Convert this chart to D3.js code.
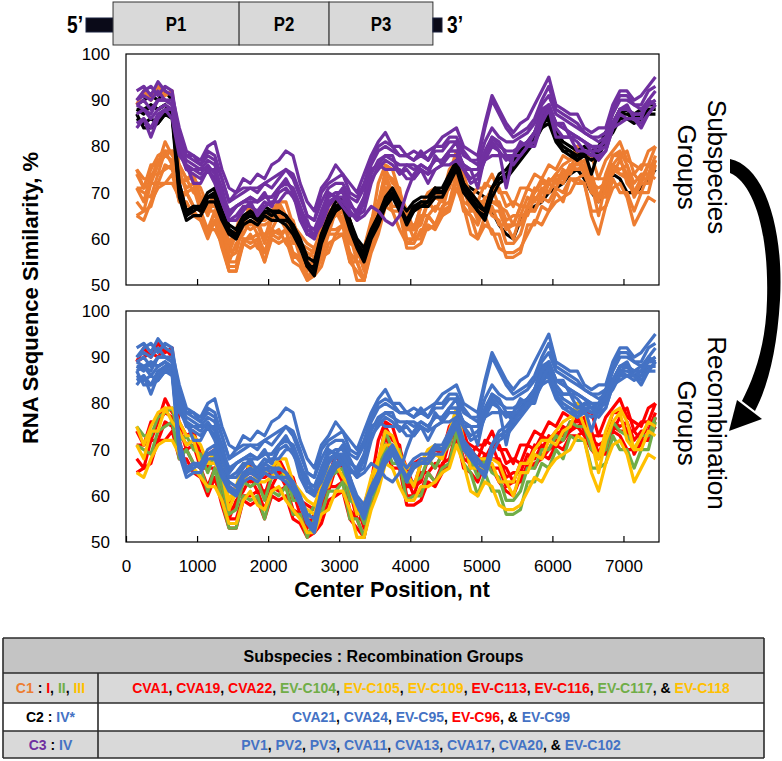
<!DOCTYPE html>
<html>
<head>
<meta charset="utf-8">
<script src="https://cdn.jsdelivr.net/npm/d3@7"></script>
<style>
  body { margin: 0; background: #fff; }
  svg { display: block; }
  text { white-space: pre; }
</style>
</head>
<body>
<div id="chart"></div>
<script>
// window centers, nt
const centerPositions = d3.range(150, 7500, 100)

// similarity to the query, % (one value per window center)
const CVA1 = [68,66,72,72,76,75,70,70,67,66, 62,66,60,55,55,60,60,61,57,62, 61,62,57,56,52,52,56,62,62,63, 57,55,51,60,65,73,69,68,60,60, 61,65,63,67,68,74,68,67,65,69, 68,68,64,65,65,69,68,71,70,73, 72,75,75,76,72,71,72,76,75,76, 72,74,74,78]
const CVA19 = [74,71,76,76,81,78,76,73,74,69, 69,69,67,58,62,64,67,64,64,65, 68,65,64,59,58,57,63,64,69,66, 64,58,58,63,72,76,75,70,66,62, 67,67,70,69,75,77,74,69,71,71, 74,70,70,67,71,71,74,73,76,75, 78,77,80,78,78,73,77,79,81,77, 76,75,79,80]
const CVA22 = [89,92,90,93,91,92,75,70,71,66, 66,66,64,55,59,61,64,61,61,62, 65,62,61,56,55,54,60,61,66,63, 61,55,55,58,67,71,71,67,64,60, 65,65,67,66,72,74,71,66,68,68, 71,67,66,63,67,67,71,70,73,72, 75,74,77,74,74,69,73,74,77,74, 74,72,76,76]
const EVC104 = [75,73,73,77,78,79,72,73,70,69, 65,69,62,56,57,63,62,63,59,64, 64,65,59,59,55,58,59,64,65,66, 59,58,54,62,66,74,70,70,63,63, 64,68,66,69,71,77,70,68,64,68, 65,64,59,59,61,66,66,70,70,73, 72,76,75,75,70,69,70,76,74,73, 70,73,73,77]
const EVC105 = [71,68,74,74,79,76,74,71,72,67, 67,67,65,57,61,63,66,63,63,64, 67,64,63,58,57,56,61,62,67,64, 62,56,57,60,68,71,71,67,65,62, 67,67,69,68,73,75,72,66,66,66, 67,63,63,60,65,65,69,68,72,71, 74,75,79,75,72,65,72,76,78,72, 70,70,74,73]
const EVC109 = [65,64,68,71,72,72,69,66,66,64, 62,62,59,54,54,59,61,58,57,61, 62,59,57,55,52,52,56,57,61,61, 57,51,51,57,61,67,66,62,59,59, 62,62,63,65,66,71,67,61,60,63, 62,58,57,57,58,61,64,63,66,68, 69,70,73,72,65,61,67,71,72,69, 63,66,69,68]
const EVC113 = [65,66,67,72,72,74,68,68,65,64, 60,64,58,53,53,59,58,59,55,60, 59,60,55,54,51,52,54,59,60,61, 55,53,51,58,63,70,66,66,58,58, 59,63,62,65,67,73,66,65,63,67, 66,66,62,63,63,67,66,69,68,71, 70,73,73,74,70,69,69,75,74,74, 69,72,72,77]
const EVC116 = [71,71,72,76,78,77,74,71,72,68, 66,69,63,57,58,64,63,64,60,65, 65,65,60,59,53,56,58,64,65,66, 60,58,53,62,67,75,72,71,62,62, 63,68,66,69,71,77,71,70,68,72, 71,71,67,68,67,71,70,73,72,74, 73,76,76,77,73,73,73,78,78,79, 74,76,76,80]
const EVC117 = [71,70,69,74,75,76,68,70,67,66, 61,66,59,53,53,60,59,60,55,61, 60,62,56,56,51,55,56,61,61,63, 55,55,51,59,62,71,67,67,59,60, 60,65,63,66,67,74,67,65,60,65, 61,61,56,56,57,63,63,67,66,70, 68,73,72,72,66,66,67,73,70,70, 66,70,70,76]
const EVC118 = [75,71,75,78,79,79,76,73,73,71, 67,70,67,59,62,67,66,66,65,66, 68,68,63,61,59,58,62,66,67,67, 64,58,58,64,68,74,73,69,66,66, 67,70,71,70,74,79,72,69,68,68, 68,67,63,63,67,67,70,72,72,74, 76,77,80,79,72,68,74,78,79,76, 70,73,76,75]

const CVA21 = [88,87,89,88,89,87,72,66,67,67, 70,71,66,63,62,65,66,65,67,66, 66,65,63,60,56,55,61,65,68,69, 64,60,58,62,65,69,71,68,66,68, 69,69,71,71,74,77,72,70,68,66, 71,74,75,77,79,81,83,86,88,83, 81,80,79,80,79,80,83,85,88,88, 87,88,89,89]
const CVA24 = [86,85,86,85,87,86,69,64,65,65, 68,68,64,61,60,63,64,63,65,64, 64,63,61,58,54,52,59,63,66,67, 62,58,55,60,63,67,69,66,64,66, 67,67,69,69,72,75,70,68,66,64, 69,72,73,75,77,79,81,84,85,81, 79,78,77,78,77,78,81,83,86,86, 85,86,87,87]
const EVC95 = [87,84,84,85,87,87,71,65,67,66, 69,70,66,62,60,64,66,64,66,66, 64,64,63,59,54,54,61,64,66,68, 64,59,56,61,65,68,69,67,64,67, 67,68,71,70,72,76,72,69,66,65, 71,73,73,76,79,80,82,84,87,82, 79,79,77,79,74,79,83,84,87,88, 86,86,88,88]
const EVC96 = [89,90,91,90,92,90,72,66,67,66, 69,70,66,62,61,64,65,64,66,65, 65,64,62,59,55,53,59,63,66,67, 62,58,56,61,64,68,70,67,65,67, 68,68,70,70,72,75,72,71,70,69, 66,63,61,60,64,66,67,68,70,71, 72,74,75,73,70,68,71,74,73,70, 70,71,73,75]
const EVC99 = [88,88,89,88,89,87,70,65,66,67, 69,69,65,62,61,64,65,64,66,65, 66,65,62,59,55,53,60,64,67,68, 63,59,57,61,64,68,70,67,63,66, 68,68,70,70,73,76,71,69,67,66, 71,73,74,76,78,80,82,85,86,82, 80,79,78,79,78,79,82,84,87,87, 86,87,88,88]

const PV1 = [92,93,91,94,92,91,84,79,78,77, 80,81,75,71,70,73,72,74,73,76, 77,79,78,72,68,66,71,73,76,74, 72,70,74,78,81,83,80,80,78,79, 78,79,80,82,83,84,80,79,78,85, 91,88,85,83,85,86,89,92,95,89, 88,87,87,84,83,84,84,89,92,92, 90,91,93,95]
const PV2 = [90,92,93,91,93,92,82,78,78,76, 78,77,73,68,70,71,71,70,72,71, 73,75,74,70,65,64,70,72,73,74, 70,69,72,77,80,81,80,78,78,77, 79,77,80,80,82,82,79,77,77,84, 90,87,84,82,83,84,86,90,93,88, 87,86,85,83,82,82,83,88,91,91, 89,89,92,93]
const PV3 = [89,88,87,90,90,89,82,75,75,75, 75,75,71,65,67,68,68,68,70,67, 71,73,70,66,64,60,66,70,69,71, 68,65,69,75,76,78,78,74,76,76, 75,74,78,76,79,81,75,75,75,78, 82,81,78,78,81,80,83,88,89,85, 85,82,82,81,79,79,82,84,88,89, 86,86,90,89]
const CVA11 = [85,86,84,87,88,88,79,75,74,73, 75,73,68,64,65,67,67,66,68,67, 70,71,69,66,61,60,64,68,69,68, 66,64,68,73,75,77,76,74,75,73, 75,74,75,76,78,78,75,73,74,77, 80,79,77,78,78,80,81,86,88,84, 82,82,81,79,78,78,79,84,87,86, 86,85,87,89]
const CVA13 = [90,91,90,92,90,90,81,78,77,76, 79,78,73,68,69,70,71,71,72,73, 74,75,73,69,65,64,68,71,72,72, 69,68,71,76,79,80,79,78,78,77, 78,77,79,79,81,81,78,77,76,81, 84,82,81,81,82,83,85,89,91,87, 86,85,84,83,82,81,82,87,90,90, 89,88,90,92]
const CVA17 = [87,88,86,88,89,88,79,76,75,74, 76,74,69,65,67,68,69,68,69,69, 71,72,71,67,63,62,66,69,70,70, 67,66,69,74,77,78,77,76,76,75, 76,75,77,77,79,79,76,75,71,78, 81,79,71,78,80,81,83,87,89,85, 84,83,82,81,80,79,80,85,88,88, 87,87,89,90]
const CVA20 = [84,86,82,86,88,86,78,76,72,72, 75,72,68,64,64,66,68,65,67,68, 68,70,70,64,61,61,63,67,69,67, 65,65,66,72,76,75,75,75,73,73, 75,72,75,76,76,77,75,72,73,77, 78,78,78,76,78,80,80,85,88,82, 82,82,79,79,79,77,79,84,85,86, 86,84,87,89]
const EVC102 = [89,90,88,90,90,89,80,77,76,75, 77,76,70,66,67,68,69,68,69,69, 71,72,71,67,62,61,65,68,69,69, 66,64,65,67,66,64,63,65,70,74, 76,75,77,77,79,79,76,75,75,79, 82,80,79,79,80,81,83,87,89,85, 84,83,82,81,80,80,81,85,88,88, 87,87,89,90]

const subspeciesNames = ['C1', 'C2', 'C3']
const recombinationNames = ['I', 'II', 'III', 'IV']

// name, subspecies, recombination group, values (table order)
const viruses = [
  ['CVA1', 'C1', 'I', CVA1], ['CVA19', 'C1', 'I', CVA19], ['CVA22', 'C1', 'I', CVA22],
  ['EV-C104', 'C1', 'II', EVC104], ['EV-C105', 'C1', 'III', EVC105], ['EV-C109', 'C1', 'III', EVC109],
  ['EV-C113', 'C1', 'I', EVC113], ['EV-C116', 'C1', 'I', EVC116], ['EV-C117', 'C1', 'II', EVC117],
  ['EV-C118', 'C1', 'III', EVC118],
  ['CVA21', 'C2', 'IV', CVA21], ['CVA24', 'C2', 'IV', CVA24], ['EV-C95', 'C2', 'IV', EVC95],
  ['EV-C96', 'C2', 'I', EVC96], ['EV-C99', 'C2', 'IV', EVC99],
  ['PV1', 'C3', 'IV', PV1], ['PV2', 'C3', 'IV', PV2], ['PV3', 'C3', 'IV', PV3],
  ['CVA11', 'C3', 'IV', CVA11], ['CVA13', 'C3', 'IV', CVA13], ['CVA17', 'C3', 'IV', CVA17],
  ['CVA20', 'C3', 'IV', CVA20], ['EV-C102', 'C3', 'IV', EVC102]
].map(([name, subspecies, recombination, values]) => ({ name, subspecies, recombination, values }))

// series order in the top panel (EV-C96 was plotted first, under the C1 lines)
const topSeriesOrder = ['EV-C96', 'CVA1', 'CVA19', 'CVA22', 'EV-C104', 'EV-C105', 'EV-C109', 'EV-C113',
  'EV-C116', 'EV-C117', 'EV-C118', 'CVA21', 'CVA24', 'EV-C95', 'EV-C99',
  'PV1', 'PV2', 'PV3', 'CVA11', 'CVA13', 'CVA17', 'CVA20', 'EV-C102']

// genome map, nt
const genomeRegions = [
  { name: '', start: 0, end: 565, utr: true },
  { name: 'P1', start: 565, end: 3200 },
  { name: 'P2', start: 3200, end: 5080 },
  { name: 'P3', start: 5080, end: 7250 },
  { name: '', start: 7250, end: 7440, utr: true }
]

const xTicks = [0, 1000, 2000, 3000, 4000, 5000, 6000, 7000]
const yTicks = [50, 60, 70, 80, 90, 100]

const subspeciesColor = d3.scaleOrdinal(subspeciesNames, ['#ED7D31', '#000000', '#7030A0'])
const recombinationColor = d3.scaleOrdinal(recombinationNames, ['#FF0000', '#70AD47', '#FFC000', '#4472C4'])

const width = 782
const height = 761
const sans = "'Liberation Sans', Arial, sans-serif"

const svg = d3.select('#chart').append('svg')
  .attr('width', width)
  .attr('height', height)
  .attr('font-family', sans)

// --- genome schematic
const gx = d3.scaleLinear().domain([0, 7440]).range([86, 442])
const genome = svg.append('g')

genome.selectAll('rect')
  .data(genomeRegions)
  .join('rect')
    .attr('x', d => gx(d.start))
    .attr('width', d => gx(d.end) - gx(d.start))
    .attr('y', d => d.utr ? 18 : 2)
    .attr('height', d => d.utr ? 14 : 43)
    .attr('fill', d => d.utr ? '#0a0a18' : '#d9d9d9')
    .attr('stroke', d => d.utr ? '#1a2340' : '#333')
    .attr('stroke-width', 1)

// condensed bold labels (no narrow face installed, so squeeze it)
const narrowLabel = (x, y, size, anchor, t) => genome.append('text')
  .attr('transform', `translate(${x},${y}) scale(0.8,1)`)
  .attr('text-anchor', anchor)
  .attr('font-weight', 'bold')
  .attr('font-size', size)
  .text(t)

genomeRegions.filter(d => !d.utr)
  .forEach(d => narrowLabel((gx(d.start) + gx(d.end)) / 2, 31, 21, 'middle', d.name))
narrowLabel(gx(0) - 3, 33, 24, 'end', '5\u2019')
narrowLabel(gx(7440) + 5, 33, 24, 'start', '3\u2019')

// --- similarity panels
const x = d3.scaleLinear().domain([0, 7500]).range([126, 659])

const panels = [
  { top: 54, bottom: 285, color: d => subspeciesColor(d.subspecies), rank: d => topSeriesOrder.indexOf(d.name), labels: false },
  { top: 311, bottom: 542, color: d => recombinationColor(d.recombination), rank: d => recombinationNames.indexOf(d.recombination), labels: true }
]

panels.forEach(p => {
  const y = d3.scaleLinear().domain([50, 100]).range([p.bottom, p.top])
  const g = svg.append('g')

  const line = d3.line()
    .x((d, i) => x(centerPositions[i]))
    .y(d => y(d))

  g.append('g')
    .attr('fill', 'none')
    .attr('stroke-width', 3.2)
    .attr('stroke-linejoin', 'round')
    .selectAll('path')
    .data(d3.sort(viruses, p.rank))
    .join('path')
      .attr('stroke', p.color)
      .attr('d', d => line(d.values))

  g.append('rect')
    .attr('x', x.range()[0])
    .attr('y', p.top)
    .attr('width', x.range()[1] - x.range()[0])
    .attr('height', p.bottom - p.top)
    .attr('fill', 'none')
    .attr('stroke', '#000')
    .attr('stroke-width', 1.2)

  const xAxis = d3.axisBottom(x)
    .tickValues(p.labels ? xTicks : xTicks.slice(1))
    .tickSize(-6)
    .tickPadding(18)
    .tickFormat(p.labels ? d3.format('d') : '')

  g.append('g')
    .attr('transform', `translate(0,${p.bottom})`)
    .call(xAxis)
    .call(a => a.select('.domain').remove())
    .call(a => a.selectAll('.tick line').attr('stroke', '#000').attr('stroke-width', 1.2))
    .call(a => a.selectAll('text').attr('font-size', 17).attr('font-family', sans).attr('fill', '#000'))

  g.append('g')
    .attr('transform', `translate(${x.range()[0]},0)`)
    .call(d3.axisLeft(y).tickValues(yTicks).tickSize(0).tickPadding(16))
    .call(a => a.select('.domain').remove())
    .call(a => a.selectAll('text').attr('font-size', 17).attr('font-family', sans).attr('fill', '#000'))
})

svg.append('text')
  .attr('transform', 'translate(38,298) rotate(-90)')
  .attr('text-anchor', 'middle')
  .attr('font-weight', 'bold')
  .attr('font-size', 22)
  .text('RNA Sequence Similarity, %')

svg.append('text')
  .attr('x', 392).attr('y', 597)
  .attr('text-anchor', 'middle')
  .attr('font-weight', 'bold')
  .attr('font-size', 22)
  .text('Center Position, nt')

// side labels
const sideLabels = [
  { lines: ['Subspecies', 'Groups'], cy: 167 },
  { lines: ['Recombination', 'Groups'], cy: 423 }
]
sideLabels.forEach(s => {
  s.lines.forEach((t, i) => {
    svg.append('text')
      .attr('transform', `translate(${i ? 678 : 708},${s.cy}) rotate(90)`)
      .attr('text-anchor', 'middle')
      .attr('font-size', 26)
      .text(t)
  })
})

// curved arrow between the two labels
svg.append('path')
  .attr('d', 'M730,159 C765,166 784,230 780,300 C777,350 768,386 755,411 L742,401 C754,378 766,345 767,300 C769,235 755,184 730,173 Z')
  .attr('fill', '#000')
svg.append('path')
  .attr('d', 'M729,431 L737,400 L762,419 Z')
  .attr('fill', '#000')

// --- table
const tableLeft = 3
const tableRight = 764
const colSplit = 98
const headerTop = 638
const rowTops = [673, 703, 731]
const rowBottom = 758
const rowFills = ['#d9d9d9', '#ffffff', '#d9d9d9']

const table = svg.append('g')

table.append('rect')
  .attr('x', tableLeft).attr('y', headerTop)
  .attr('width', tableRight - tableLeft).attr('height', rowTops[0] - headerTop)
  .attr('fill', '#c4c4c4')

subspeciesNames.forEach((s, i) => {
  const top = rowTops[i]
  const bottom = i < 2 ? rowTops[i + 1] : rowBottom
  table.append('rect')
    .attr('x', tableLeft).attr('y', top)
    .attr('width', tableRight - tableLeft).attr('height', bottom - top)
    .attr('fill', rowFills[i])

  const mid = (top + bottom) / 2 + 5
  const members = viruses.filter(v => v.subspecies === s)
  const groups = recombinationNames.filter(r => members.some(v => v.recombination === r && v.name !== 'EV-C96'))

  const left = table.append('text')
    .attr('x', (tableLeft + colSplit) / 2).attr('y', mid)
    .attr('text-anchor', 'middle')
    .attr('font-weight', 'bold').attr('font-size', 14)
  left.append('tspan').attr('fill', subspeciesColor(s)).text(s)
  left.append('tspan').attr('fill', '#000').text(' : ')
  groups.forEach((r, j) => {
    if (j) left.append('tspan').attr('fill', '#000').text(', ')
    left.append('tspan').attr('fill', recombinationColor(r)).text(r + (s === 'C2' ? '*' : ''))
  })

  const right = table.append('text')
    .attr('x', (colSplit + tableRight) / 2).attr('y', mid)
    .attr('text-anchor', 'middle')
    .attr('font-weight', 'bold').attr('font-size', 14)
  members.forEach((v, j) => {
    if (j) right.append('tspan').attr('fill', '#000').text(j === members.length - 1 ? ', & ' : ', ')
    right.append('tspan').attr('fill', recombinationColor(v.recombination)).text(v.name)
  })
})

table.append('text')
  .attr('x', (tableLeft + tableRight) / 2).attr('y', 662)
  .attr('text-anchor', 'middle')
  .attr('font-weight', 'bold').attr('font-size', 16)
  .text('Subspecies : Recombination Groups')

// grid lines
const hLines = [headerTop, ...rowTops, rowBottom]
table.selectAll('line.h')
  .data(hLines)
  .join('line')
    .attr('class', 'h')
    .attr('x1', tableLeft).attr('x2', tableRight)
    .attr('y1', d => d).attr('y2', d => d)
    .attr('stroke', '#2b2b2b').attr('stroke-width', 1.6)

table.selectAll('line.v')
  .data([[tableLeft, headerTop], [colSplit, rowTops[0]], [tableRight, headerTop]])
  .join('line')
    .attr('class', 'v')
    .attr('x1', d => d[0]).attr('x2', d => d[0])
    .attr('y1', d => d[1]).attr('y2', rowBottom)
    .attr('stroke', '#2b2b2b').attr('stroke-width', 1.6)
</script>
</body>
</html>
